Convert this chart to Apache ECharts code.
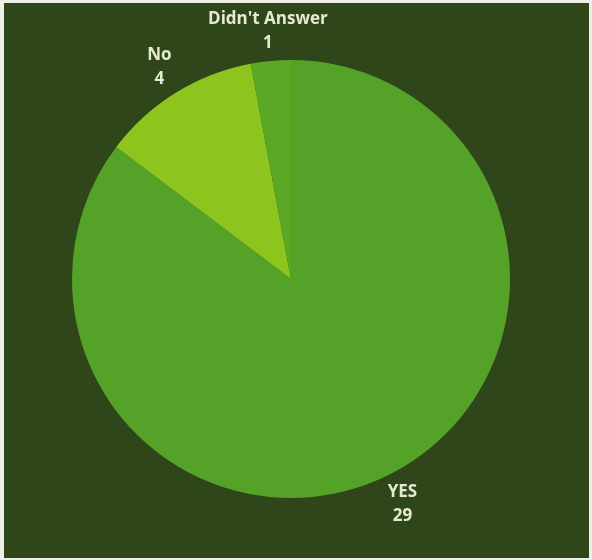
<!DOCTYPE html>
<html>
<head>
<meta charset="utf-8">
<style>
  html, body { margin: 0; padding: 0; width: 592px; height: 560px; background: #eef0e8; overflow: hidden; }
  #chart { position: absolute; left: 4px; top: 3px; width: 585px; height: 555px; }
</style>
<script src="https://cdn.jsdelivr.net/npm/echarts@6/dist/echarts.min.js"></script>
</head>
<body>
<div id="chart"></div>
<script>
// Survey answers, clockwise from 12 o'clock
const answers = ['YES', 'No', "Didn't Answer"];
const counts = [29, 4, 1];
const sliceColors = ['#55a228', '#8dc51e', '#5ba827'];

const slices = answers.map((name, i) => ({
  name: name,
  value: counts[i],
  itemStyle: { color: sliceColors[i] }
}));

const chart = echarts.init(document.getElementById('chart'), null, { renderer: 'canvas' });

chart.setOption({
  backgroundColor: '#2e461a',
  animation: false,
  series: [
    {
      // the pie itself
      type: 'pie',
      center: [287, 276],
      radius: [0, 219],
      startAngle: 90,
      clockwise: true,
      silent: true,
      label: { show: false },
      labelLine: { show: false },
      itemStyle: { borderWidth: 0 },
      data: slices
    },
    {
      // invisible ring that carries the name / count labels just outside the pie
      type: 'pie',
      center: [287, 277],
      radius: [219, 275],
      startAngle: 90,
      clockwise: true,
      silent: true,
      itemStyle: { color: 'rgba(0,0,0,0)', borderWidth: 0 },
      label: {
        show: true,
        position: 'inside',
        formatter: '{b}\n{c}',
        color: '#e6ead2',
        fontFamily: '"Open Sans", sans-serif',
        fontWeight: 'bold',
        fontSize: 17,
        lineHeight: 24,
        align: 'center'
      },
      labelLine: { show: false },
      data: answers.map((name, i) => ({ name: name, value: counts[i] }))
    }
  ]
});
</script>
</body>
</html>
